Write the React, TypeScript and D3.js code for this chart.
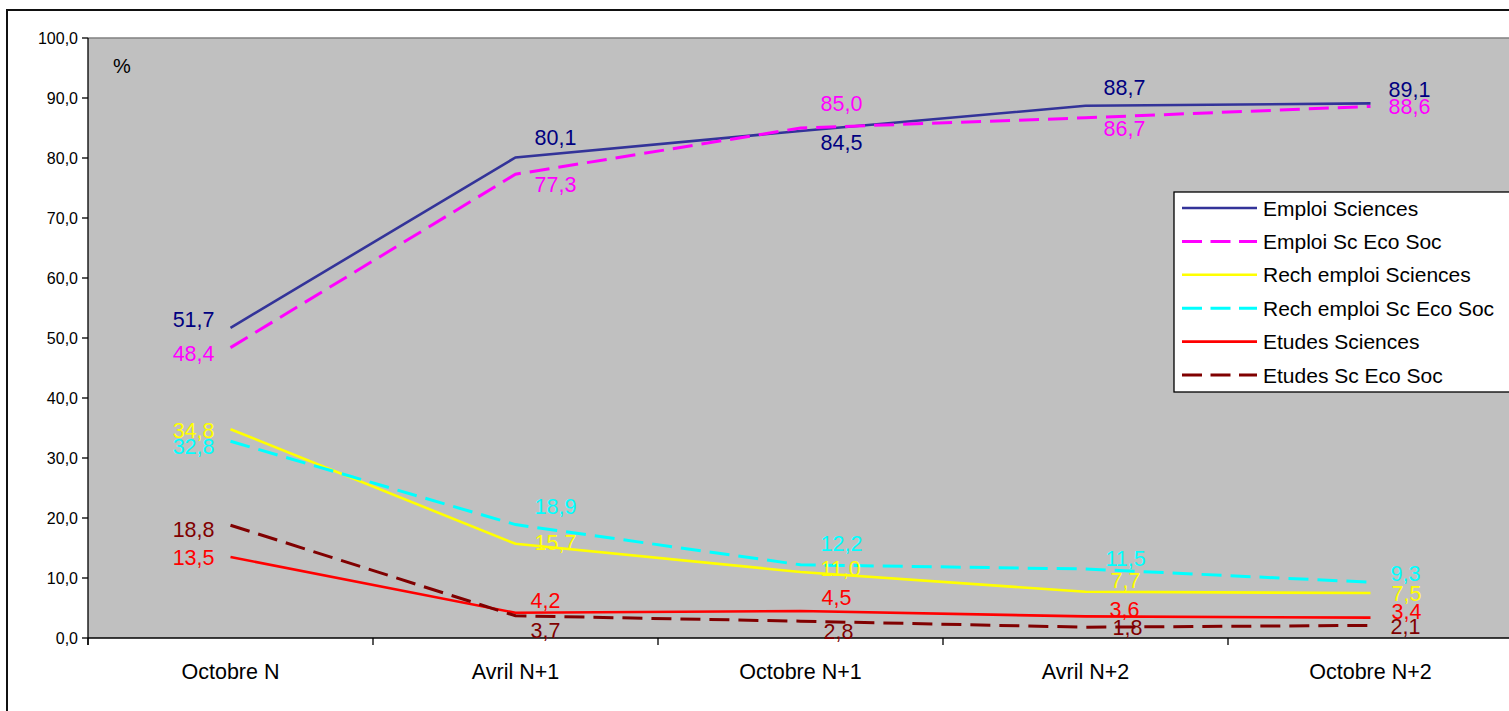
import React from "react";
import * as d3 from "d3";

const categories = ["Octobre N", "Avril N+1", "Octobre N+1", "Avril N+2", "Octobre N+2"];

const seriesNames = [
  "Emploi Sciences",
  "Emploi Sc Eco Soc",
  "Rech emploi Sciences",
  "Rech emploi Sc Eco Soc",
  "Etudes Sciences",
  "Etudes Sc Eco Soc",
];

const emploiSciences = [51.7, 80.1, 84.5, 88.7, 89.1];
const emploiEcoSoc = [48.4, 77.3, 85.0, 86.7, 88.6];
const rechSciences = [34.8, 15.7, 11.0, 7.7, 7.5];
const rechEcoSoc = [32.8, 18.9, 12.2, 11.5, 9.3];
const etudesSciences = [13.5, 4.2, 4.5, 3.6, 3.4];
const etudesEcoSoc = [18.8, 3.7, 2.8, 1.8, 2.1];

const seriesValues = [emploiSciences, emploiEcoSoc, rechSciences, rechEcoSoc, etudesSciences, etudesEcoSoc];

const yTicks = [0, 10, 20, 30, 40, 50, 60, 70, 80, 90, 100];

// styling (kept apart from data)
const lineColors = ["#333399", "#FF00FF", "#FFFF00", "#00FFFF", "#FF0000", "#800000"];
const labelColors = ["#000080", "#FF00FF", "#FFFF00", "#00FFFF", "#FF0000", "#800000"];
const dashed = [false, true, false, true, false, true];
// offsets of the value labels relative to their point
const labelDy = [
  [-9, -20, 11, -19, -14],
  [6, 10, -25, 10, 0],
  [1, -2, -4, -12, 0],
  [5, -18, -22, -11, -9],
  [0, -13, -14, -7, -6],
  [4, 14, 10, 0, 1],
];
const labelDx = [
  [-16, 40, 41, 39, 39],
  [-16, 40, 41, 39, 39],
  [-16, 40, 40, 40, 36],
  [-16, 40, 41, 40, 35],
  [-16, 30, 36, 39, 36],
  [-16, 30, 38, 42, 35],
];

const FONT = "'Liberation Sans', Arial, sans-serif";

export default function App() {
  const W = 1509;
  const H = 711;
  const left = 88;
  const right = 1513;
  const top = 38;
  const bottom = 638;

  const x = d3.scalePoint<string>().domain(categories).range([left, right]).padding(0.5);
  const y = d3.scaleLinear().domain([0, 100]).range([bottom, top]);
  const step = x.step();

  const line = d3
    .line<number>()
    .x((_, i) => x(categories[i]) as number)
    .y((d) => y(d));

  const fmt = (v: number) => v.toFixed(1).replace(".", ",");

  const legendX = 1174;
  const legendY = 192;
  const legendRow = 33.4;

  return (
    <svg
      width={W}
      height={H}
      style={{ position: "absolute", left: 0, top: 0, background: "#fff" }}
      fontFamily={FONT}
    >
      <rect x={7} y={10} width={W + 20} height={H + 20} fill="#fff" stroke="#111" strokeWidth={2} />
      {/* plot area */}
      <rect x={left} y={top} width={right - left} height={bottom - top} fill="#C0C0C0" />
      <line x1={left} x2={right} y1={top} y2={top} stroke="#808080" strokeWidth={1.5} />
      {/* y axis */}
      <line x1={left} x2={left} y1={top} y2={bottom + 7} stroke="#000" strokeWidth={1.3} />
      {yTicks.map((t) => (
        <g key={t}>
          <line x1={left - 6} x2={left} y1={y(t)} y2={y(t)} stroke="#000" strokeWidth={1.3} />
          <text x={78} y={y(t)} dy="0.35em" textAnchor="end" fontSize={16} fill="#000">
            {fmt(t)}
          </text>
        </g>
      ))}
      {/* x axis */}
      <line x1={left} x2={right} y1={bottom} y2={bottom} stroke="#000" strokeWidth={1.5} />
      {categories.map((c, i) => (
        <line
          key={"t" + c}
          x1={left + i * step}
          x2={left + i * step}
          y1={bottom}
          y2={bottom + 7}
          stroke="#000"
          strokeWidth={1.3}
        />
      ))}
      {categories.map((c) => (
        <text key={c} x={x(c)} y={679} textAnchor="middle" fontSize={21.5} fill="#000">
          {c}
        </text>
      ))}
      <text x={122} y={73} textAnchor="middle" fontSize={20} fill="#000">
        %
      </text>
      {/* lines */}
      {seriesValues.map((vals, s) => (
        <path
          key={"l" + s}
          d={line(vals) || ""}
          fill="none"
          stroke={lineColors[s]}
          strokeWidth={dashed[s] ? 3 : 2.6}
          strokeDasharray={dashed[s] ? "20 9" : undefined}
        />
      ))}
      {/* value labels */}
      {seriesValues.map((vals, s) =>
        vals.map((v, i) => {
          const px = x(categories[i]) as number;
          const py = y(v);
          const first = i === 0;
          return (
            <text
              key={"v" + s + "-" + i}
              x={px + labelDx[s][i]}
              y={py + labelDy[s][i]}
              dy="0.36em"
              textAnchor={first ? "end" : "middle"}
              fontSize={21.5}
              fill={labelColors[s]}
            >
              {fmt(v)}
            </text>
          );
        })
      )}
      {/* legend */}
      <rect x={legendX} y={legendY} width={400} height={200} fill="#fff" stroke="#000" strokeWidth={1.3} />
      {seriesNames.map((n, s) => {
        const ly = legendY + 16 + s * legendRow;
        return (
          <g key={n}>
            <line
              x1={1182}
              x2={1257}
              y1={ly}
              y2={ly}
              stroke={lineColors[s]}
              strokeWidth={dashed[s] ? 3 : 2.6}
              strokeDasharray={dashed[s] ? "20 8.5" : undefined}
            />
            <text x={1263} y={ly} dy="0.36em" fontSize={21} fill="#000">
              {n}
            </text>
          </g>
        );
      })}
    </svg>
  );
}
